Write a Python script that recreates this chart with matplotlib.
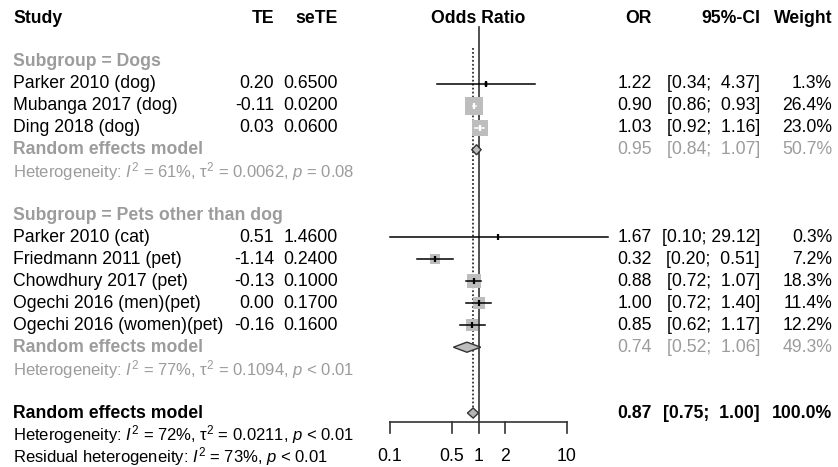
import numpy as np
import matplotlib
matplotlib.use("Agg")
import matplotlib.pyplot as plt
from matplotlib.transforms import blended_transform_factory

plt.rcParams['font.family'] = ['Liberation Sans', 'DejaVu Sans']
plt.rcParams['mathtext.fontset'] = 'custom'
plt.rcParams['mathtext.rm'] = 'Liberation Sans'
plt.rcParams['mathtext.it'] = 'Liberation Sans:italic'
plt.rcParams['mathtext.bf'] = 'Liberation Sans:bold'

# study level data
studies = ["Parker 2010 (dog)", "Mubanga 2017 (dog)", "Ding 2018 (dog)",
           "Parker 2010 (cat)", "Friedmann 2011 (pet)", "Chowdhury 2017 (pet)",
           "Ogechi 2016 (men)(pet)", "Ogechi 2016 (women)(pet)"]
group = [0, 0, 0, 1, 1, 1, 1, 1]
te = [0.20, -0.11, 0.03, 0.51, -1.14, -0.13, 0.00, -0.16]
sete = [0.6500, 0.0200, 0.0600, 1.4600, 0.2400, 0.1000, 0.1700, 0.1600]
odds = [1.22, 0.90, 1.03, 1.67, 0.32, 0.88, 1.00, 0.85]
ci_lo = [0.34, 0.86, 0.92, 0.10, 0.20, 0.72, 0.72, 0.62]
ci_hi = [4.37, 0.93, 1.16, 29.12, 0.51, 1.07, 1.40, 1.17]
weight = [1.3, 26.4, 23.0, 0.3, 7.2, 18.3, 11.4, 12.2]

# subgroups
sub_labels = ["Subgroup = Dogs", "Subgroup = Pets other than dog"]
sub_or = [0.95, 0.74]
sub_lo = [0.84, 0.52]
sub_hi = [1.07, 1.06]
sub_w = [50.7, 49.3]
sub_het = [r"Heterogeneity: $I^2$ = 61%, $\mathrm{\tau}^2$ = 0.0062, $p$ = 0.08",
           r"Heterogeneity: $I^2$ = 77%, $\mathrm{\tau}^2$ = 0.1094, $p$ < 0.01"]

# overall
all_or, all_lo, all_hi, all_w = 0.87, 0.75, 1.00, 100.0
all_het = r"Heterogeneity: $I^2$ = 72%, $\mathrm{\tau}^2$ = 0.0211, $p$ < 0.01"
resid_het = r"Residual heterogeneity: $I^2$ = 73%, $p$ < 0.01"

ticks = [0.1, 0.5, 1, 2, 10]
tick_labels = ["0.1", "0.5", "1", "2", "10"]

W, H = 838, 467
GREY = "#9c9c9c"
SQ = "#bdbdbd"
LINE = "#333333"
FS = 12.7
FS_HET = 12.0

fig = plt.figure(figsize=(W / 100, H / 100), dpi=100)
ax = fig.add_axes([0, 0, 1, 1])
ax.set_xscale('log')
x0, dec = 478.5, 88.5          # pixel of OR=1, pixels per decade
row0, rh = 18.1, 21.94         # pixel of row 0, row height
ax.set_xlim(10 ** (-x0 / dec), 10 ** ((W - x0) / dec))
ax.set_ylim((H - row0) / rh, -row0 / rh)
ax.axis('off')

tr = blended_transform_factory(ax.transAxes, ax.transData)


def txt(px, row, s, ha='left', color='black', weight='normal', size=FS):
    ax.text(px / W, row, s, transform=tr, ha=ha, va='center', color=color,
            fontweight=weight, fontsize=size)


def ci_str(lo, hi):
    h = f"{hi:.2f}"
    pad = " " * (5 - len(h))
    return f"[{lo:.2f}; {pad}{h}]"


def right_cols(row, o, lo, hi, w, color='black', weight='normal'):
    txt(652, row, f"{o:.2f}", 'right', color, weight)
    txt(760, row, ci_str(lo, hi), 'right', color, weight)
    txt(832, row, f"{w:.1f}%", 'right', color, weight)


def diamond(row, o, lo, hi, fc):
    ax.fill([lo, o, hi, o], [row, row - 0.23, row, row + 0.23],
            facecolor=fc, edgecolor=LINE, lw=1.0, zorder=4)


# header
txt(13, 0, "Study", weight='bold')
txt(274, 0, "TE", 'right', weight='bold')
txt(338, 0, "seTE", 'right', weight='bold')
ax.text(1, 0, "Odds Ratio", ha='center', va='center', fontweight='bold', fontsize=FS)
txt(652, 0, "OR", 'right', weight='bold')
txt(760, 0, "95%-CI", 'right', weight='bold')
txt(832, 0, "Weight", 'right', weight='bold')

row = 2
for g in range(2):
    txt(13, row, sub_labels[g], color=GREY, weight='bold')
    row += 1
    for i in range(len(studies)):
        if group[i] != g:
            continue
        txt(13, row, studies[i])
        txt(274, row, f"{te[i]:.2f}", 'right')
        txt(338, row, f"{sete[i]:.4f}", 'right')
        right_cols(row, odds[i], ci_lo[i], ci_hi[i], weight[i])
        side = 2.52 * np.sqrt(weight[i])
        ax.plot(odds[i], row, 's', ms=side, color=SQ, mew=0, zorder=2)
        # CI hidden inside its square is drawn in white, as in R meta
        narrow = np.log10(ci_hi[i] / ci_lo[i]) < 0.13
        c = 'white' if narrow else 'black'
        ax.plot([ci_lo[i], ci_hi[i]], [row, row], color=c, lw=1.1, zorder=3,
                clip_on=False)
        ax.plot(odds[i], row, '|', ms=5, mew=1.6, color=c, zorder=3)
        row += 1
    txt(13, row, "Random effects model", color=GREY, weight='bold')
    right_cols(row, sub_or[g], sub_lo[g], sub_hi[g], sub_w[g], color=GREY)
    diamond(row, sub_or[g], sub_lo[g], sub_hi[g], SQ)
    row += 1
    txt(13, row, sub_het[g], color=GREY, size=FS_HET)
    row += 2

# overall
txt(13, row, "Random effects model", weight='bold')
right_cols(row, all_or, all_lo, all_hi, all_w, weight='bold')
diamond(row, all_or, all_lo, all_hi, "#b5b5b5")
txt(13, row + 1, all_het, size=FS_HET)
txt(13, row + 2, resid_het, size=FS_HET)

# reference lines
axis_row = row + 0.43
ax.plot([1, 1], [0.41, axis_row], color=LINE, lw=1.2, zorder=1)
ax.plot([all_or, all_or], [1.36, row - 0.23], color=LINE, lw=1.3,
        ls=(0, (1, 1.2)), zorder=1)

# x axis
ax.plot([ticks[0], ticks[-1]], [axis_row, axis_row], color=LINE, lw=1.2)
for t, lab in zip(ticks, tick_labels):
    ax.plot([t, t], [axis_row, axis_row + 0.5], color=LINE, lw=1.2)
    ax.text(t, row + 2, lab, ha='center', va='center', fontsize=FS)

fig.savefig("out.png", dpi=100)
